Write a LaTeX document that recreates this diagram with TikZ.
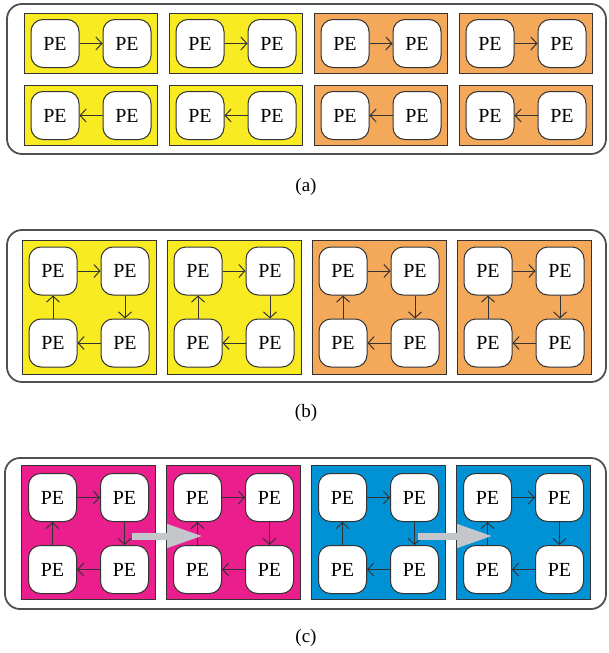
\documentclass[tikz,border=0pt]{standalone}
\usepackage{fontspec}
\setmainfont{Liberation Serif}
\usetikzlibrary{arrows.meta,positioning,calc}
\definecolor{peyellow}{HTML}{F8EB22}
\definecolor{peorange}{HTML}{F4A95A}
\definecolor{pemagenta}{HTML}{EA1E8C}
\definecolor{peblue}{HTML}{0092D4}
\definecolor{panelgray}{HTML}{505050}
\definecolor{edgegray}{HTML}{333333}
\definecolor{movegray}{HTML}{C3C6CB}
\tikzset{
  panel/.style={draw=panelgray,line width=1.8pt,rounded corners=15pt},
  cluster/.style={draw=edgegray,line width=0.9pt,minimum width=134pt,inner sep=0pt},
  pe/.style={draw=edgegray,fill=white,rounded corners=12pt,minimum width=48pt,
    minimum height=48pt,inner sep=0pt,line width=1pt,font=\fontsize{20}{20}\selectfont},
  link/.style={-{Straight Barb[length=6pt,width=13pt]},draw=edgegray,line width=1pt},
  move/.style={-{Triangle[length=36pt,width=22pt]},draw=movegray,line width=7pt},
  caption/.style={font=\fontsize{19}{19}\selectfont}
}
\begin{document}
\begin{tikzpicture}[x=1pt,y=-1pt]
  \useasboundingbox (0,0) rectangle (608,653);
  % (a) pairs
  \draw[panel] (7,4) rectangle (606,154);
  \foreach \i/\c in {1/peyellow,2/peyellow,3/peorange,4/peorange}{
    \node[cluster,fill=\c,minimum width=133pt,minimum height=60pt] (a\i t) at ({91+145*(\i-1)},43.5) {};
    \node[cluster,fill=\c,minimum width=133pt,minimum height=60pt] (a\i b) at ({91+145*(\i-1)},115.5) {};
    \node[pe] (a\i tl) at ($(a\i t)+(-36,0)$) {PE};
    \node[pe] (a\i tr) at ($(a\i t)+(36,0)$) {PE};
    \node[pe] (a\i bl) at ($(a\i b)+(-36,0)$) {PE};
    \node[pe] (a\i br) at ($(a\i b)+(36,0)$) {PE};
    \draw[link] (a\i tl) -- (a\i tr);
    \draw[link] (a\i br) -- (a\i bl);
  }
  \node[caption] (capa) at (306,187) {(a)};
  % (b) rings of four
  \draw[panel] (7,230) rectangle (606,382);
  \foreach \i/\c in {1/peyellow,2/peyellow,3/peorange,4/peorange}{
    \node[cluster,fill=\c,minimum height=134pt] (b\i) at ({89+145*(\i-1)},307) {};
    \node[pe] (b\i tl) at ($(b\i)+(-36,-36)$) {PE};
    \node[pe] (b\i tr) at ($(b\i)+(36,-36)$) {PE};
    \node[pe] (b\i bl) at ($(b\i)+(-36,36)$) {PE};
    \node[pe] (b\i br) at ($(b\i)+(36,36)$) {PE};
    \draw[link] (b\i tl) -- (b\i tr);
    \draw[link] (b\i tr) -- (b\i br);
    \draw[link] (b\i br) -- (b\i bl);
    \draw[link] (b\i bl) -- (b\i tl);
  }
  \node[caption] (capb) at (306,413) {(b)};
  % (c) rings with migration
  \draw[panel] (5,458) rectangle (606,609);
  \foreach \i/\c in {1/pemagenta,2/pemagenta,3/peblue,4/peblue}{
    \node[cluster,fill=\c,minimum height=134pt] (c\i) at ({88.5+145*(\i-1)},532.5) {};
    \node[pe] (c\i tl) at ($(c\i)+(-36,-35)$) {PE};
    \node[pe] (c\i tr) at ($(c\i)+(36,-35)$) {PE};
    \node[pe] (c\i bl) at ($(c\i)+(-36,37)$) {PE};
    \node[pe] (c\i br) at ($(c\i)+(36,37)$) {PE};
    \draw[link] (c\i tl) -- (c\i tr);
    \draw[link] (c\i tr) -- (c\i br);
    \draw[link] (c\i br) -- (c\i bl);
    \draw[link] (c\i bl) -- (c\i tl);
  }
  \coordinate (m1s) at ($(c1)+(43,3.5)$);
  \coordinate (m1e) at ($(c2)+(-30.5,3.5)$);
  \coordinate (m2s) at ($(c3)+(39,3.5)$);
  \coordinate (m2e) at ($(c4)+(-30.5,3.5)$);
  \draw[move] (m1s) -- (m1e);
  \draw[move] (m2s) -- (m2e);
  \node[caption] (capc) at (306,638) {(c)};
\end{tikzpicture}
\end{document}
